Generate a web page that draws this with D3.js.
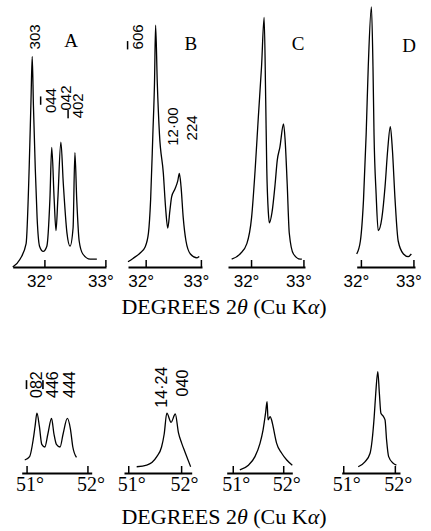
<!DOCTYPE html>
<html>
<head>
<meta charset="utf-8">
<script src="https://cdn.jsdelivr.net/npm/d3@7"></script>
<style>
  body { margin: 0; background: #fff; }
  svg { display: block; }
  .trace { fill: none; stroke: #000; stroke-width: 1.3; stroke-linejoin: round; }
  .axis path { stroke: #000; stroke-width: 2; }
  .axis line { stroke: #000; stroke-width: 1.5; }
</style>
</head>
<body>
<div id="chart"></div>
<script>
// traces: [2theta (deg), intensity]
var traceA = [[31.48,0],[31.60,3],[31.70,9],[31.75,38],[31.78,64],[31.80,81],[31.82,62],[31.85,38],[31.88,19],[31.92,8],[31.98,6],[32.04,8],[32.09,26],[32.12,46],[32.16,26],[32.19,14],[32.22,26],[32.27,48],[32.31,32],[32.37,13],[32.42,8],[32.47,15],[32.50,44],[32.53,26],[32.57,10],[32.63,5],[32.75,3],[32.86,3]];
var traceB = [[31.68,2],[31.77,3.3],[31.90,5.4],[31.99,7.7],[32.05,13],[32.09,26],[32.13,51],[32.16,71],[32.18,93],[32.21,71],[32.25,51],[32.32,36],[32.36,23],[32.40,15],[32.44,22],[32.47,27],[32.53,30],[32.58,33],[32.61,36],[32.64,31],[32.68,19],[32.73,10],[32.81,5],[32.93,3.5],[32.97,4]];
var traceC = [[31.63,3],[31.79,5],[31.92,9],[32.01,19],[32.08,38],[32.14,58],[32.20,77],[32.25,96],[32.28,64],[32.30,38],[32.33,21],[32.35,17],[32.40,21],[32.46,32],[32.50,41],[32.55,46],[32.62,55],[32.65,49],[32.69,32],[32.73,13],[32.81,5],[32.94,3],[32.97,3]];
var traceD = [[31.92,5],[31.99,10],[32.05,26],[32.10,51],[32.14,77],[32.20,100],[32.23,77],[32.25,51],[32.29,28],[32.33,14],[32.40,19],[32.46,31],[32.51,45],[32.56,54],[32.60,45],[32.65,26],[32.71,10],[32.81,5],[32.90,4],[32.96,5]];

var traceA2 = [[50.97,5],[51.05,6.3],[51.11,13],[51.14,18],[51.17,23],[51.21,18],[51.25,11],[51.30,10],[51.35,15],[51.41,21],[51.45,15],[51.49,11],[51.55,10],[51.60,15],[51.67,21],[51.72,17],[51.76,10],[51.82,6]];
var traceB2 = [[51.16,2.4],[51.35,3],[51.54,6.3],[51.63,10],[51.68,15],[51.73,23],[51.81,19.5],[51.89,22.7],[51.95,15.4],[52.01,11.5],[52.08,7.7],[52.18,2.4]];
var traceC2 = [[51.14,1.2],[51.31,3],[51.44,6.3],[51.54,11.4],[51.60,16.5],[51.65,23],[51.68,27.4],[51.70,20.4],[51.74,21.7],[51.77,20.4],[51.80,17.8],[51.87,11.4],[51.97,7.6],[52.07,5],[52.18,3]];
var traceD2 = [[51.29,2.4],[51.42,4.3],[51.52,7.6],[51.56,12.7],[51.60,21.7],[51.63,30.7],[51.67,39],[51.70,30.7],[51.73,23],[51.77,22],[51.81,20.4],[51.84,12.7],[51.88,6.3],[51.97,3.7],[52.03,3]];

// axis extent of each small plot (deg)
var topDomains = [[31.48,33.01],[31.68,33.02],[31.56,33.03],[31.92,33.03]];
var bottomDomains = [[50.92,52.07],[50.92,52.20],[50.88,52.18],[50.97,52.10]];
var topTicks = [32, 33];
var bottomTicks = [51, 52];
var panelLetters = ["A", "B", "C", "D"];
var axisTitle = "DEGREES 2θ (Cu Kα)";

// reflection labels: [panel, text, deg, intensity]  ("\u0304" = bar over the previous digit)
var topHkl = [[0,"303",31.83,88.5],[0,"04\u03044",32.09,64],[0,"042",32.33,65],[0,"4\u030402",32.54,62],
              [1,"6\u030406",31.84,88.5],[1,"12\u00b700",32.48,54],[1,"224",32.82,53.5]];
var bottomHkl = [[0,"08\u03042",51.15,34],[0,"44\u03046",51.42,34],[0,"444",51.69,34],
                 [1,"14\u00b724",51.62,33],[1,"040",52.02,34.6]];
// letter anchors: [deg, intensity]
var letterPos = [[32.44,84.6],[32.82,83.5],[32.90,83.5],[32.92,82.7]];

var width = 431, height = 531;
var topRanges = [[12.7,106],[128,202],[228,305],[356.7,415]];
var bottomRanges = [[21.7,91.7],[124,191.7],[226.7,292.3],[341.7,400]];
var topBase = 267, bottomBase = 473;

var svg = d3.select("#chart").append("svg")
  .attr("width", width)
  .attr("height", height);

var yTop = d3.scaleLinear().domain([0, 100]).range([topBase, 7]);
var yBottom = d3.scaleLinear().domain([0, 100]).range([bottomBase, 213]);

function drawRow(traces, domains, ranges, y, base, ticks, tickFont, tickSize, pad, dx) {
  var scales = [];
  traces.forEach(function(tr, i){
    var x = d3.scaleLinear().domain(domains[i]).range(ranges[i]);
    scales.push(x);
    var line = d3.line()
      .x(function(d){ return x(d[0]); })
      .y(function(d){ return y(d[1]); })
      .curve(d3.curveMonotoneX);
    svg.append("path").attr("class", "trace").attr("d", line(tr));

    var ax = svg.append("g")
      .attr("class", "axis")
      .attr("transform", "translate(0," + base + ")")
      .call(d3.axisBottom(x).tickValues(ticks).tickSizeInner(-7).tickSizeOuter(0)
        .tickPadding(pad).tickFormat(function(d){ return d + "°"; }));
    ax.selectAll("text")
      .attr("fill", "#000")
      .attr("dx", dx)
      .style("font-family", tickFont)
      .style("font-size", tickSize + "px");
  });
  return scales;
}

var topScales = drawRow([traceA, traceB, traceC, traceD], topDomains, topRanges, yTop, topBase,
  topTicks, "'Liberation Sans', Arial, sans-serif", 17, 8, -5);
var bottomScales = drawRow([traceA2, traceB2, traceC2, traceD2], bottomDomains, bottomRanges, yBottom, bottomBase,
  bottomTicks, "'Liberation Serif', 'Times New Roman', serif", 20, 4, 3);

function drawHkl(list, scales, y, size) {
  list.forEach(function(h){
    var t = svg.append("text")
      .attr("transform", "translate(" + scales[h[0]](h[2]) + "," + y(h[3]) + ") rotate(-90)")
      .attr("text-anchor", "middle")
      .attr("dominant-baseline", "central")
      .style("font-family", "'Liberation Sans', Arial, sans-serif")
      .style("font-size", size + "px");
    var chars = h[1].split("");
    for (var i = 0; i < chars.length; i++) {
      if (chars[i] === "\u0304") continue;
      var barred = chars[i + 1] === "\u0304";
      t.append("tspan")
        .style("text-decoration", barred ? "overline" : null)
        .text(chars[i]);
    }
  });
}
drawHkl(topHkl, topScales, yTop, 15);
drawHkl(bottomHkl, bottomScales, yBottom, 16);

panelLetters.forEach(function(l, i){
  svg.append("text")
    .attr("x", topScales[i](letterPos[i][0]))
    .attr("y", yTop(letterPos[i][1]))
    .attr("text-anchor", "middle")
    .style("font-family", "'Liberation Serif', 'Times New Roman', serif")
    .style("font-size", "19px")
    .text(l);
});

function drawTitle(yPos) {
  var t = svg.append("text")
    .attr("x", 224)
    .attr("y", yPos)
    .attr("text-anchor", "middle")
    .style("font-family", "'Liberation Serif', 'Times New Roman', serif")
    .style("font-size", "22px");
  var parts = axisTitle.split(/([θα])/);
  parts.forEach(function(p){
    if (!p) return;
    t.append("tspan")
      .style("font-style", (p === "θ" || p === "α") ? "italic" : null)
      .text(p);
  });
}
drawTitle(314);
drawTitle(524);
</script>
</body>
</html>
